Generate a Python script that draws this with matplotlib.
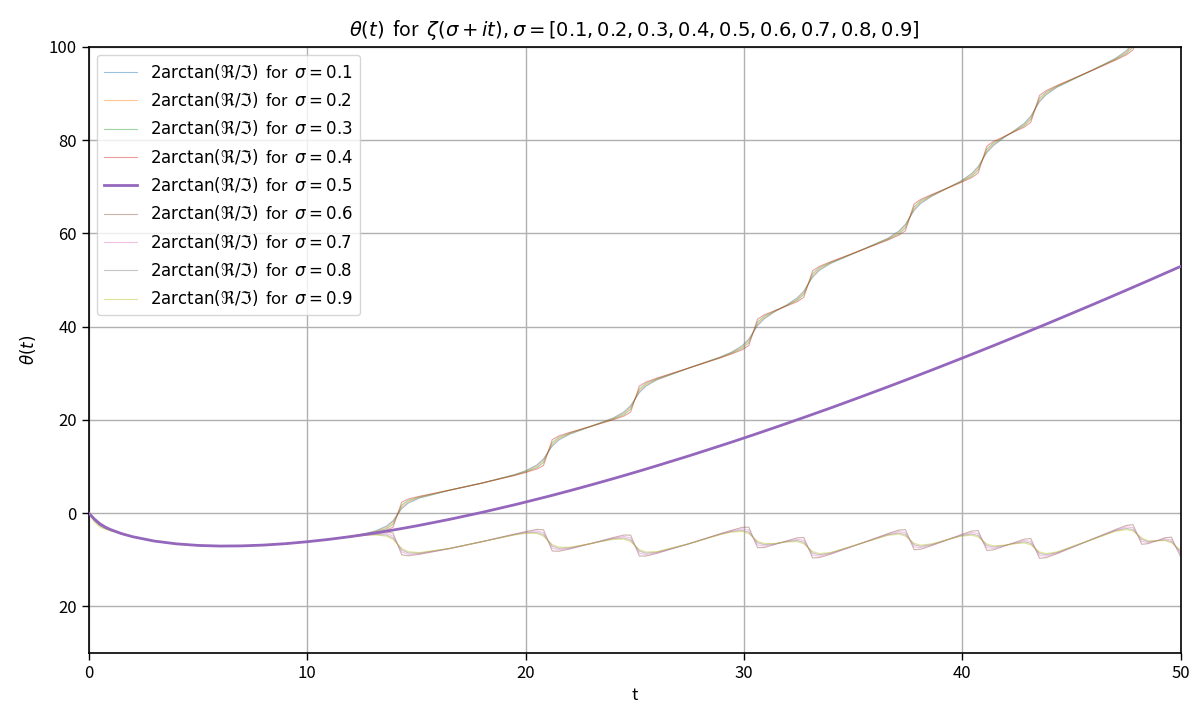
import matplotlib
matplotlib.use("Agg")
import matplotlib.pyplot as plt
from matplotlib.ticker import FixedLocator, FixedFormatter

plt.rcParams['font.family'] = ['Noto Sans CJK JP', 'DejaVu Sans']
plt.rcParams['mathtext.fontset'] = 'dejavusans'

t = [0, 0.25, 0.5, 0.75, 1, 1.5, 2, 3, 4, 5, 6, 7, 8, 9, 10, 11,
     12.0, 12.63, 13.13, 13.63, 13.93, 14.13, 14.33, 14.63, 15.13,
     16.5, 18.0, 19.5,
     20.02, 20.52, 20.82, 21.02, 21.22, 21.52, 22.02,
     23.0,
     24.01, 24.51, 24.81, 25.01, 25.21, 25.51, 26.01,
     27.5,
     28.92, 29.42, 29.92, 30.22, 30.42, 30.62, 30.92, 31.42,
     31.94, 32.44, 32.74, 32.94, 33.14, 33.44, 33.94,
     35.3,
     36.59, 37.09, 37.39, 37.59, 37.79, 38.09, 38.59,
     39.92, 40.42, 40.72, 40.92, 41.12, 41.42, 41.92,
     42.33, 42.83, 43.13, 43.33, 43.53, 43.83, 44.33,
     46.0,
     47.01, 47.51, 47.81, 48.01, 48.21, 48.51,
     49.01, 49.27, 49.57, 49.77, 50.0]

sigmas = [0.1, 0.2, 0.3, 0.4, 0.5, 0.6, 0.7, 0.8, 0.9]

theta_s01 = [0, -1.54, -2.65, -3.28, -3.73, -4.49, -5.05, -5.99, -6.58, -6.92, -7.06, -7.02, -6.85, -6.55, -6.13, -5.62,
             -4.96, -4.40, -3.80, -2.79, -1.62, -0.33, 0.97, 2.17, 3.22,
             4.87, 6.44, 8.27,
             9.12, 10.34, 11.63, 13.00, 14.37, 15.69, 16.93,
             18.63,
             20.40, 21.71, 23.06, 24.46, 25.87, 27.24, 28.57,
             31.16,
             33.49, 34.50, 35.91, 37.32, 38.76, 40.21, 41.64, 43.25,
             44.59, 46.17, 47.62, 49.12, 50.58, 52.03, 53.48,
             56.26,
             58.95, 60.47, 61.94, 63.43, 64.92, 66.41, 67.93,
             71.19, 72.81, 74.31, 75.81, 77.32, 78.83, 80.59,
             81.87, 83.58, 85.12, 86.68, 88.19, 89.72, 91.32,
             95.12,
             97.52, 99.16, 100.71, 102.25, 103.78, 105.65,
             107.68, 108.73, 110.40, 112.01, 113.81]

theta_s02 = [0, -1.44, -2.55, -3.18, -3.63, -4.39, -5.05, -5.99, -6.58, -6.92, -7.06, -7.02, -6.85, -6.55, -6.13, -5.62,
             -4.96, -4.46, -3.93, -3.04, -1.93, -0.33, 1.29, 2.42, 3.35,
             4.87, 6.44, 8.21,
             8.99, 10.09, 11.32, 13.00, 14.69, 15.94, 17.06,
             18.63,
             20.27, 21.46, 22.75, 24.46, 26.19, 27.49, 28.70,
             31.16,
             33.43, 34.37, 35.66, 37.01, 38.76, 40.53, 41.89, 43.32,
             44.53, 45.92, 47.31, 49.12, 50.90, 52.28, 53.61,
             56.26,
             58.82, 60.22, 61.63, 63.43, 65.24, 66.66, 68.06,
             71.06, 72.56, 74.00, 75.81, 77.64, 79.08, 80.66,
             81.81, 83.33, 84.81, 86.68, 88.51, 89.97, 91.45,
             95.12,
             97.39, 98.91, 100.40, 102.25, 104.10, 105.81,
             107.62, 108.58, 110.16, 112.05, 114.13]

theta_s03 = [0, -1.34, -2.35, -3.08, -3.53, -4.39, -5.05, -5.99, -6.58, -6.92, -7.06, -7.02, -6.85, -6.55, -6.13, -5.62,
             -5.02, -4.53, -4.05, -3.36, -2.37, -0.33, 1.73, 2.73, 3.47,
             4.93, 6.44, 8.14,
             8.87, 9.77, 10.88, 13.00, 15.13, 16.25, 17.18,
             18.63,
             20.15, 21.14, 22.31, 24.46, 26.63, 27.80, 28.82,
             31.16,
             33.36, 34.25, 35.34, 36.57, 38.76, 40.97, 42.20, 43.37,
             44.47, 45.66, 46.91, 49.12, 51.34, 52.59, 53.73,
             56.26,
             58.70, 59.90, 61.19, 63.43, 65.68, 66.97, 68.18,
             71.00, 72.24, 73.56, 75.81, 78.08, 79.39, 80.71,
             81.75, 83.07, 84.41, 86.68, 88.95, 90.28, 91.57,
             95.06,
             97.27, 98.59, 99.96, 102.25, 104.54, 106.02,
             107.55, 108.35, 109.78, 112.11, 114.62]

theta_s04 = [0, -1.24, -2.25, -2.98, -3.53, -4.39, -5.05, -5.99, -6.58, -6.92, -7.06, -7.02, -6.85, -6.55, -6.13, -5.62,
             -5.02, -4.59, -4.18, -3.67, -3.00, -0.33, 2.35, 3.04, 3.60,
             4.93, 6.44, 8.08,
             8.74, 9.46, 10.25, 13.00, 15.75, 16.56, 17.31,
             18.63,
             20.02, 20.83, 21.68, 24.46, 27.25, 28.11, 28.95,
             31.16,
             33.30, 34.12, 35.03, 35.94, 38.76, 41.59, 42.51, 43.44,
             44.40, 45.35, 46.28, 49.12, 51.96, 52.90, 53.86,
             56.26,
             58.57, 59.59, 60.56, 63.43, 66.30, 67.28, 68.31,
             70.87, 71.93, 72.93, 75.81, 78.70, 79.70, 80.78,
             81.68, 82.76, 83.78, 86.68, 89.57, 90.59, 91.70,
             95.06,
             97.14, 98.28, 99.33, 102.25, 105.16, 106.24,
             107.50, 108.13, 109.21, 112.14, 115.22]

theta_s05 = [0, -1.24, -2.25, -2.98, -3.53, -4.39, -5.05, -5.99, -6.58, -6.92, -7.06, -7.02, -6.85, -6.55, -6.13, -5.62,
             -5.02, -4.59, -4.24, -3.86, -3.63, -3.47, -3.30, -3.05, -2.62,
             -1.35, 0.16, 1.80,
             2.40, 2.99, 3.34, 3.58, 3.82, 4.19, 4.81,
             6.06,
             7.39, 8.07, 8.48, 8.75, 9.03, 9.45, 10.16,
             12.31,
             14.45, 15.21, 15.99, 16.46, 16.77, 17.09, 17.57, 18.37,
             19.21, 20.03, 20.52, 20.85, 21.18, 21.68, 22.51,
             24.84,
             27.09, 27.98, 28.51, 28.87, 29.23, 29.77, 30.67,
             33.11, 34.04, 34.60, 34.97, 35.35, 35.91, 36.86,
             37.64, 38.59, 39.17, 39.56, 39.94, 40.52, 41.50,
             44.79,
             46.81, 47.82, 48.43, 48.84, 49.24, 49.85,
             50.88, 51.42, 52.03, 52.45, 52.92]

theta_s06 = [0, -1.24, -2.35, -2.98, -3.53, -4.39, -5.05, -5.99, -6.58, -6.92, -7.06, -7.02, -6.85, -6.55, -6.13, -5.62,
             -5.02, -4.59, -4.30, -4.05, -4.26, -6.61, -8.95, -9.14, -8.84,
             -7.63, -6.12, -4.48,
             -3.94, -3.48, -3.57, -5.84, -8.11, -8.18, -7.69,
             -6.51,
             -5.24, -4.69, -4.72, -6.96, -9.19, -9.21, -8.63,
             -6.54,
             -4.40, -3.70, -3.05, -3.02, -5.22, -7.41, -7.37, -6.70,
             -5.98, -5.29, -5.24, -7.42, -9.60, -9.54, -8.84,
             -6.58,
             -4.39, -3.63, -3.54, -5.69, -7.84, -7.74, -6.97,
             -4.65, -3.85, -3.73, -5.87, -8.00, -7.88, -7.06,
             -6.40, -5.58, -5.44, -7.56, -9.69, -9.55, -8.70,
             -5.48,
             -3.52, -2.64, -2.47, -4.57, -6.68, -6.54,
             -5.74, -5.29, -5.15, -7.24, -9.38]

theta_s07 = [0, -1.34, -2.35, -3.08, -3.53, -4.39, -5.05, -5.99, -6.58, -6.92, -7.06, -7.02, -6.85, -6.55, -6.13, -5.62,
             -5.02, -4.65, -4.43, -4.36, -4.89, -6.61, -8.33, -8.83, -8.71,
             -7.63, -6.12, -4.54,
             -4.07, -3.79, -4.20, -5.84, -7.49, -7.87, -7.56,
             -6.51,
             -5.37, -5.00, -5.35, -6.96, -8.57, -8.90, -8.50,
             -6.54,
             -4.46, -3.83, -3.36, -3.65, -5.22, -6.79, -7.06, -6.63,
             -6.05, -5.60, -5.87, -7.42, -8.98, -9.23, -8.71,
             -6.58,
             -4.52, -3.94, -4.17, -5.69, -7.22, -7.43, -6.84,
             -4.78, -4.16, -4.36, -5.87, -7.38, -7.57, -6.99,
             -6.47, -5.89, -6.07, -7.56, -9.07, -9.24, -8.57,
             -5.48,
             -3.65, -2.95, -3.10, -4.57, -6.06, -6.32,
             -5.79, -5.51, -5.72, -7.21, -8.78]

theta_s08 = [0, -1.54, -2.60, -3.23, -3.68, -4.44, -5.05, -5.99, -6.58, -6.92, -7.06, -7.02, -6.85, -6.55, -6.13, -5.62,
             -5.08, -4.72, -4.55, -4.68, -5.33, -6.61, -7.89, -8.52, -8.59,
             -7.57, -6.12, -4.61,
             -4.19, -4.11, -4.64, -5.84, -7.05, -7.56, -7.44,
             -6.51,
             -5.49, -5.32, -5.79, -6.96, -8.13, -8.59, -8.38,
             -6.54,
             -4.53, -3.95, -3.68, -4.09, -5.22, -6.35, -6.75, -6.58,
             -6.11, -5.86, -6.27, -7.42, -8.54, -8.92, -8.59,
             -6.58,
             -4.64, -4.26, -4.61, -5.69, -6.78, -7.12, -6.72,
             -4.84, -4.48, -4.80, -5.87, -6.94, -7.26, -6.94,
             -6.53, -6.15, -6.47, -7.56, -8.63, -8.93, -8.45,
             -5.54,
             -3.77, -3.27, -3.54, -4.57, -5.62, -6.11,
             -5.86, -5.74, -6.10, -7.15, -8.29]

theta_s09 = [0, -1.84, -2.95, -3.48, -3.83, -4.54, -5.05, -5.99, -6.58, -6.92, -7.06, -7.02, -6.85, -6.55, -6.13, -5.62,
             -5.08, -4.78, -4.68, -4.93, -5.64, -6.61, -7.57, -8.27, -8.46,
             -7.57, -6.12, -4.67,
             -4.32, -4.36, -4.95, -5.84, -6.73, -7.31, -7.31,
             -6.51,
             -5.62, -5.57, -6.10, -6.96, -7.81, -8.34, -8.25,
             -6.54,
             -4.59, -4.08, -3.93, -4.40, -5.22, -6.03, -6.50, -6.51,
             -6.17, -6.11, -6.58, -7.42, -8.22, -8.67, -8.46,
             -6.58,
             -4.77, -4.51, -4.92, -5.69, -6.46, -6.87, -6.59,
             -4.97, -4.73, -5.11, -5.87, -6.62, -7.01, -6.87,
             -6.59, -6.40, -6.78, -7.56, -8.31, -8.68, -8.32,
             -5.54,
             -3.90, -3.52, -3.85, -4.57, -5.30, -5.95,
             -5.92, -5.89, -6.34, -7.11, -7.97]

series = [theta_s01, theta_s02, theta_s03, theta_s04, theta_s05,
          theta_s06, theta_s07, theta_s08, theta_s09]
colors = ['tab:blue', 'tab:orange', 'tab:green', 'tab:red', 'tab:purple',
          'tab:brown', 'tab:pink', 'tab:gray', 'tab:olive']

x_ticks = [0, 10, 20, 30, 40, 50]
y_ticks = [-20, 0, 20, 40, 60, 80, 100]
y_tick_labels = ['20', '0', '20', '40', '60', '80', '100']

fig = plt.figure(figsize=(12, 7.2), dpi=100)
ax = fig.add_axes([0.074, 0.093, 0.910, 0.842])

for s, vals, c in zip(sigmas, series, colors):
    label = r'$2\arctan(\Re/\Im)$  for  $\sigma = %s$' % s
    if s == 0.5:
        ax.plot(t, vals, color=c, lw=2.0, alpha=1.0, label=label, zorder=3)
    else:
        ax.plot(t, vals, color=c, lw=0.8, alpha=0.45, label=label, zorder=2)

ax.set_xlim(0, 50)
ax.set_ylim(-30, 100)
ax.xaxis.set_major_locator(FixedLocator(x_ticks))
ax.yaxis.set_major_locator(FixedLocator(y_ticks))
ax.yaxis.set_major_formatter(FixedFormatter(y_tick_labels))
ax.tick_params(labelsize=12, length=5, width=1)
ax.grid(True, color='#b0b0b0', lw=1.0)
for sp in ax.spines.values():
    sp.set_color('black')
    sp.set_linewidth(1.2)

ax.set_title(r'$\theta(t)$  for  $\zeta(\sigma+it), \sigma=[0.1, 0.2, 0.3, 0.4, 0.5, 0.6, 0.7, 0.8, 0.9]$',
             fontsize=14, pad=8)
ax.set_xlabel('t', fontsize=12)
ax.set_ylabel(r'$\theta(t)$', fontsize=12, labelpad=8)

ax.legend(loc='upper left', fontsize=12, framealpha=0.8)

fig.savefig('out.png', dpi=100)
